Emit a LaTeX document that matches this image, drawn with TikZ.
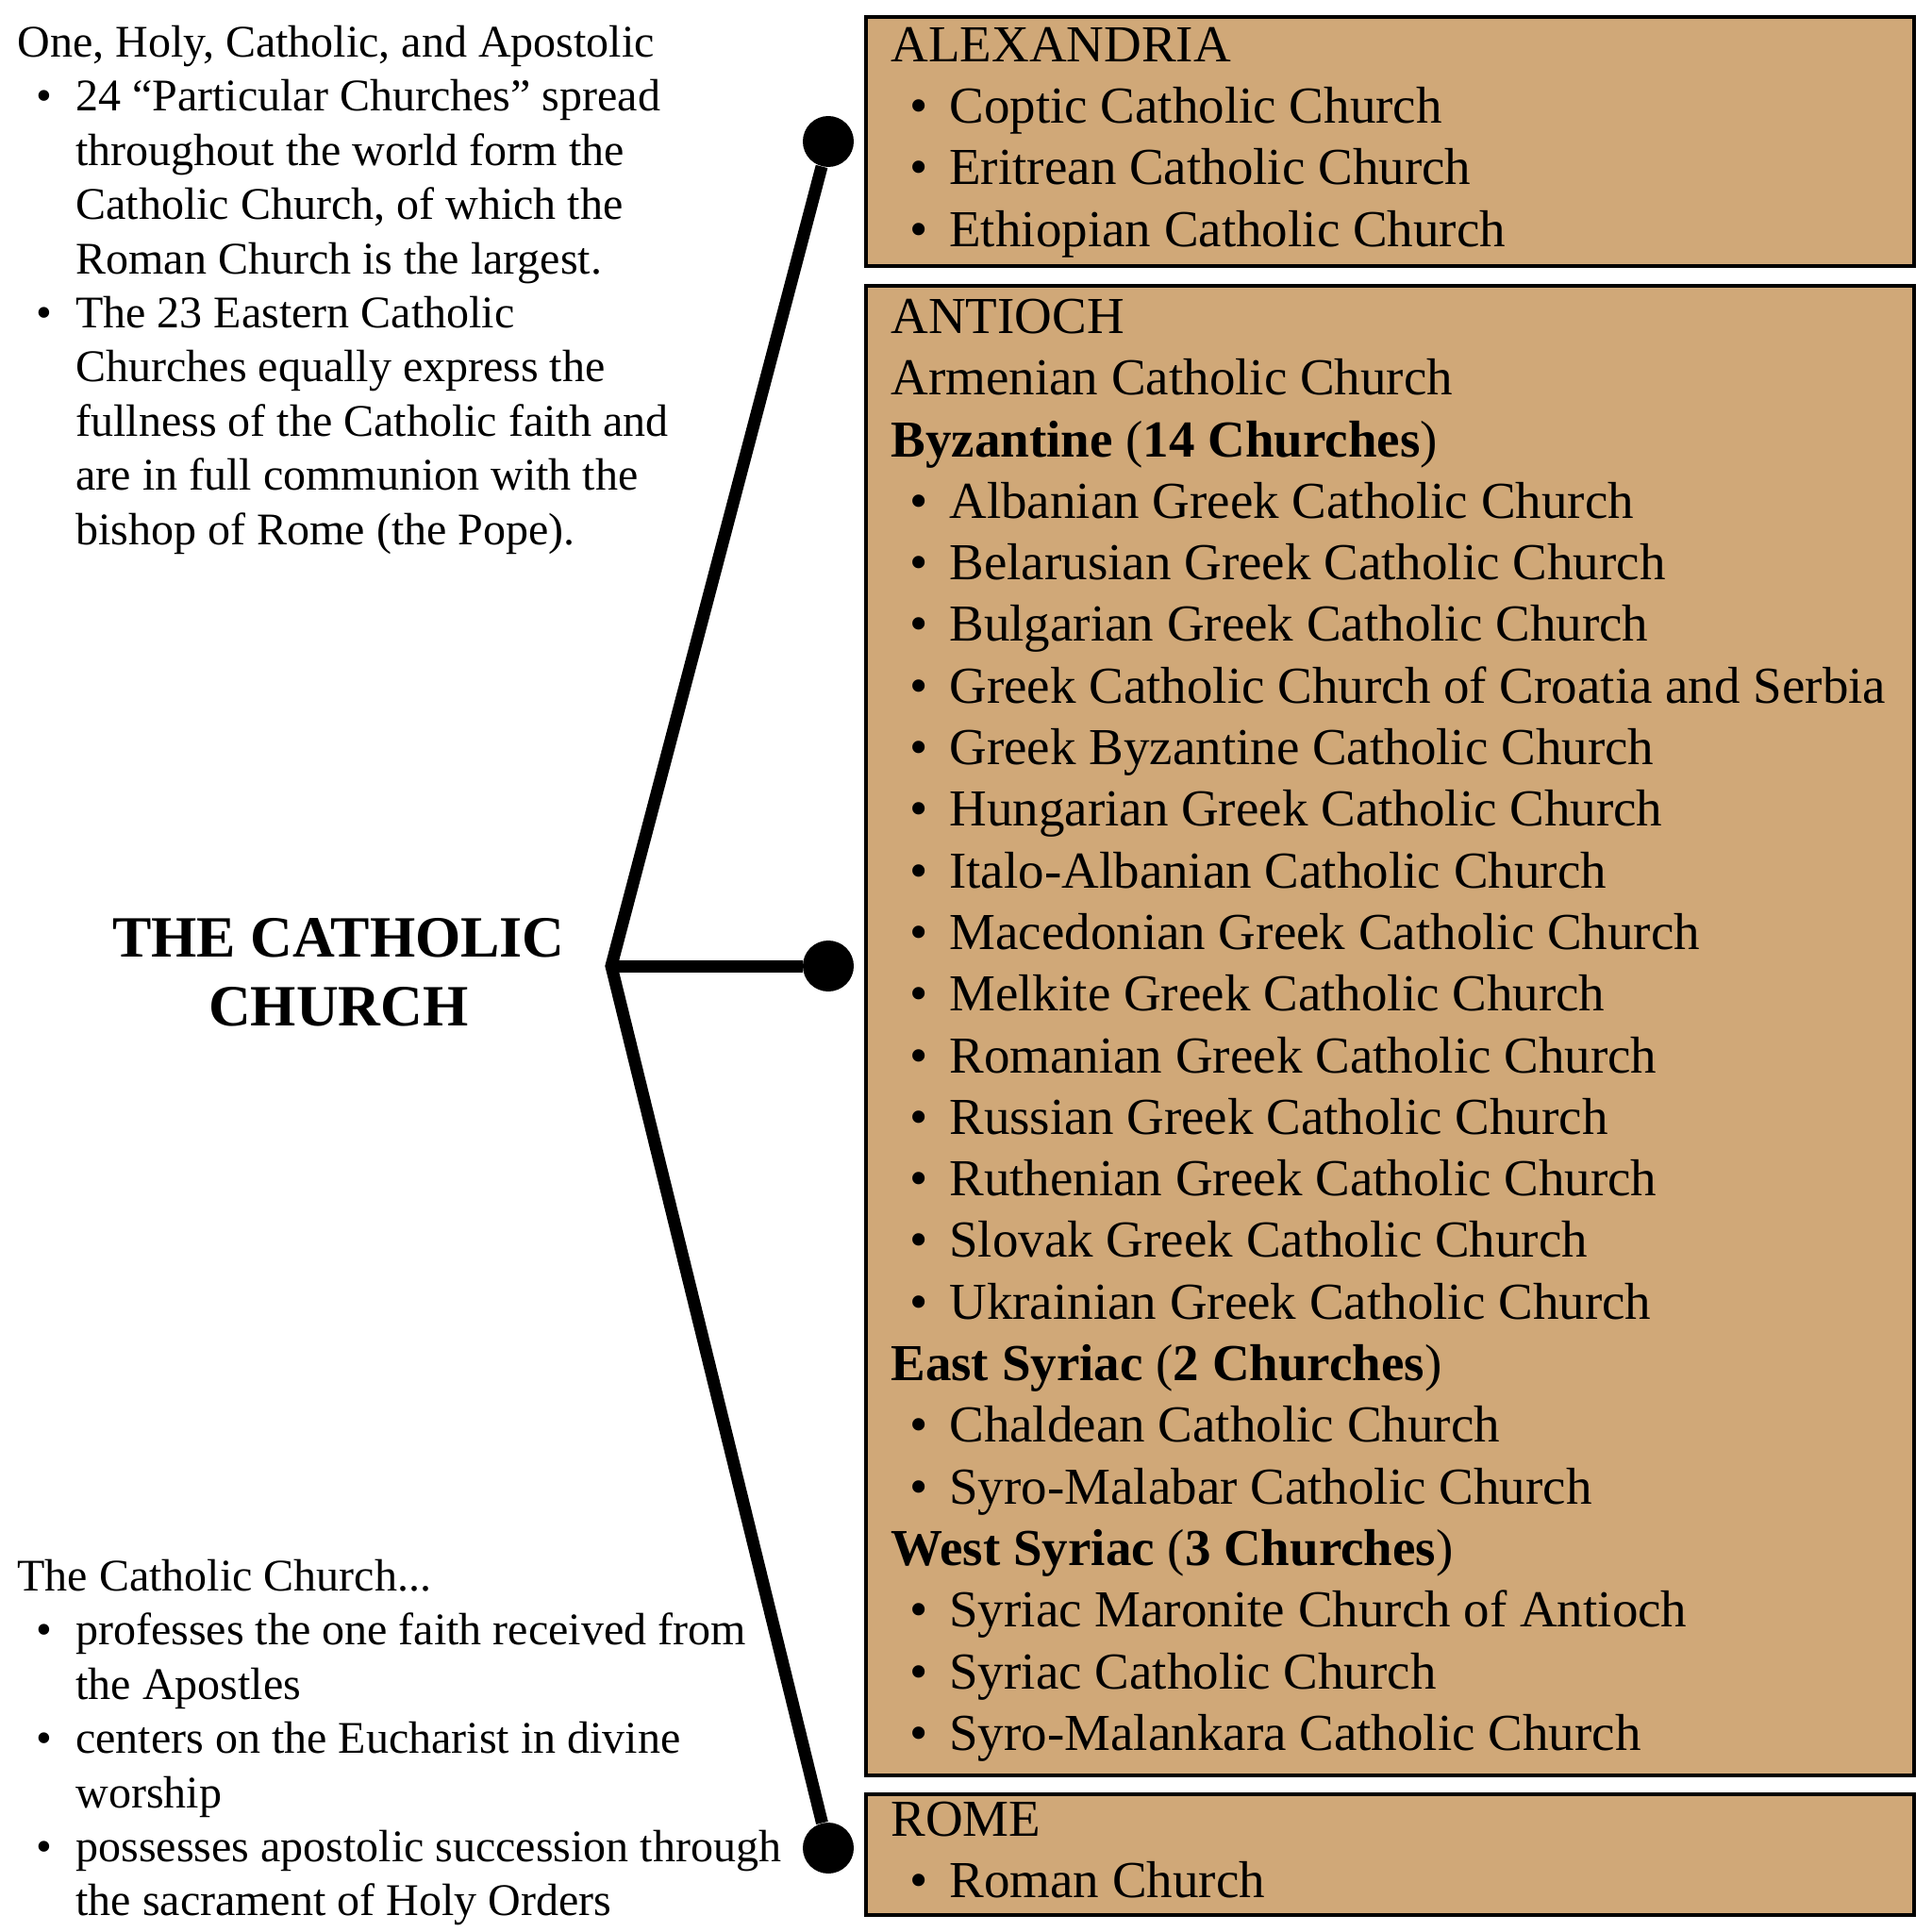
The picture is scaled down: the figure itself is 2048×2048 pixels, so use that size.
\documentclass[tikz,border=0pt]{standalone}
\usepackage{fontspec}
\setmainfont{Liberation Serif}
\usetikzlibrary{positioning}
\definecolor{parchment}{RGB}{208,168,120}
\tikzstyle{churchbox} = [draw=black, line width=1.75pt, fill=parchment]
\tikzstyle{listing} = [anchor=north west, inner sep=0pt, align=left, font=\fontsize{27.5}{32.65}\selectfont]
\tikzstyle{notes} = [anchor=north west, inner sep=0pt, align=left, font=\fontsize{24}{28.7}\selectfont]
\tikzstyle{title} = [anchor=north, inner sep=0pt, align=center, font=\bfseries\fontsize{31}{36.5}\selectfont]
\tikzstyle{dot} = [circle, fill=black, inner sep=0pt, minimum size=27pt]
\tikzstyle{spoke} = [line width=6.5pt, line join=miter]
\newcommand{\itm}[1]{\makebox[31pt][l]{\hspace{10pt}\textbullet}#1}
\newcommand{\cnt}[1]{\hspace*{31pt}#1}
\newcommand{\firstln}[1]{\rule{0pt}{#1}}

\begin{document}
\begin{tikzpicture}[x=0.5pt, y=-0.5pt]
\useasboundingbox (0,0) rectangle (2048,2048);

\draw [churchbox] (918,18) rectangle (2029,282);
\draw [churchbox] (918,303) rectangle (2029,1882);
\draw [churchbox] (918,1902) rectangle (2029,2030);

\node (alex) [listing] at (944,21) {\firstln{22pt}ALEXANDRIA\\
\itm{Coptic Catholic Church}\\
\itm{Eritrean Catholic Church}\\
\itm{Ethiopian Catholic Church}};

\node (antioch) [listing] at (944,309) {\firstln{22pt}ANTIOCH\\
Armenian Catholic Church\\
\textbf{Byzantine} (\textbf{14 Churches})\\
\itm{Albanian Greek Catholic Church}\\
\itm{Belarusian Greek Catholic Church}\\
\itm{Bulgarian Greek Catholic Church}\\
\itm{Greek Catholic Church of Croatia and Serbia}\\
\itm{Greek Byzantine Catholic Church}\\
\itm{Hungarian Greek Catholic Church}\\
\itm{Italo-Albanian Catholic Church}\\
\itm{Macedonian Greek Catholic Church}\\
\itm{Melkite Greek Catholic Church}\\
\itm{Romanian Greek Catholic Church}\\
\itm{Russian Greek Catholic Church}\\
\itm{Ruthenian Greek Catholic Church}\\
\itm{Slovak Greek Catholic Church}\\
\itm{Ukrainian Greek Catholic Church}\\
\textbf{East Syriac} (\textbf{2 Churches})\\
\itm{Chaldean Catholic Church}\\
\itm{Syro-Malabar Catholic Church}\\
\textbf{West Syriac} (\textbf{3 Churches})\\
\itm{Syriac Maronite Church of Antioch}\\
\itm{Syriac Catholic Church}\\
\itm{Syro-Malankara Catholic Church}};

\node (rome) [listing] at (944,1902) {\firstln{22pt}ROME\\
\itm{Roman Church}};

\node (marks) [notes] at (18,20) {\firstln{20pt}One, Holy, Catholic, and Apostolic\\
\itm{24 “Particular Churches” spread}\\
\cnt{throughout the world form the}\\
\cnt{Catholic Church, of which the}\\
\cnt{Roman Church is the largest.}\\
\itm{The 23 Eastern Catholic}\\
\cnt{Churches equally express the}\\
\cnt{fullness of the Catholic faith and}\\
\cnt{are in full communion with the}\\
\cnt{bishop of Rome (the Pope).}};

\node (traits) [notes] at (18,1646) {\firstln{20pt}The Catholic Church...\\
\itm{professes the one faith received from}\\
\cnt{the Apostles}\\
\itm{centers on the Eucharist in divine}\\
\cnt{worship}\\
\itm{possesses apostolic succession through}\\
\cnt{the sacrament of Holy Orders}};

\node (church) [title] at (359,964) {\firstln{25pt}THE CATHOLIC\\CHURCH};

\coordinate (hub) at (648,1024);
\node (dalex) [dot] at (878,150) {};
\node (dantioch) [dot] at (878,1024) {};
\node (drome) [dot] at (878,1959) {};

\draw [spoke] (dalex) -- (hub) -- (drome);
\draw [spoke] (hub) -- (dantioch);
\end{tikzpicture}
\end{document}
